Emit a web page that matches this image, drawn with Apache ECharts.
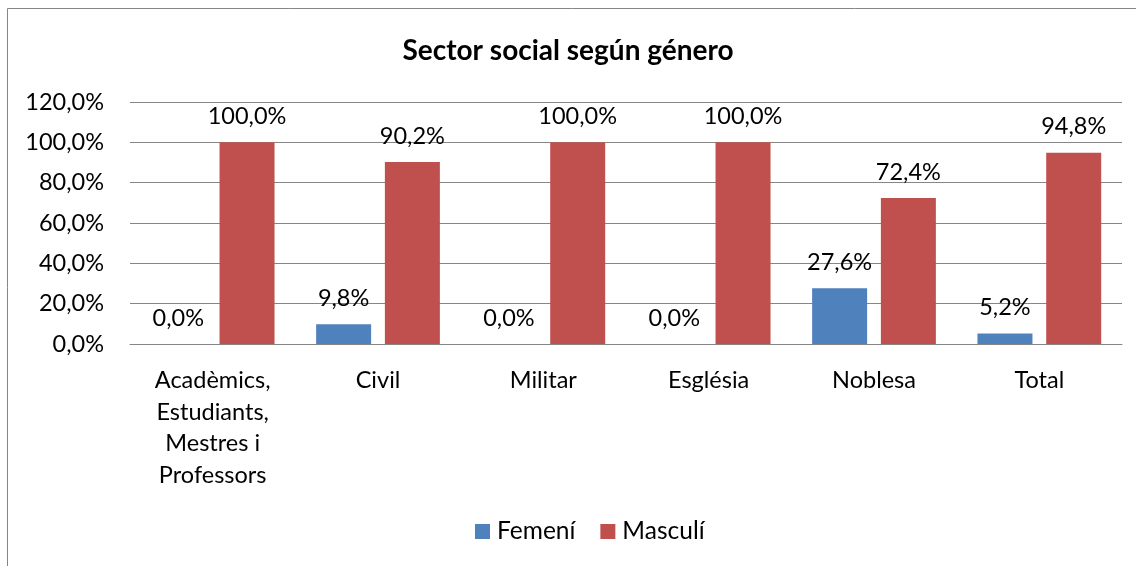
<!DOCTYPE html>
<html><head><meta charset="utf-8">
<script src="https://cdn.jsdelivr.net/npm/echarts@6/dist/echarts.min.js"></script>
<style>html,body{margin:0;padding:0;background:#fff}#c{width:1136px;height:566px}</style>
</head><body><div id="c"></div>
<script>
const categories = ['Acadèmics,\nEstudiants,\nMestres i\nProfessors', 'Civil', 'Militar', 'Església', 'Noblesa', 'Total'];
const femeni = [0.0, 9.8, 0.0, 0.0, 27.6, 5.2];
const masculi = [100.0, 90.2, 100.0, 100.0, 72.4, 94.8];
const seriesNames = ['Femení', 'Masculí'];
const titleText = 'Sector social según género';

const font = 'Lato, "Open Sans", sans-serif';
const fs = 23.5;
const fmt = v => v.toFixed(1).replace('.', ',') + '%';
const chart = echarts.init(document.getElementById('c'), null, {renderer: 'canvas'});
const lbl = {show: true, position: 'top', distance: 14, color: '#000', fontFamily: font, fontSize: fs,
  formatter: p => fmt(p.value)};
chart.setOption({
  animation: false,
  graphic: [{type: 'rect', shape: {x: 7.5, y: 8.5, width: 1140, height: 600}, style: {fill: 'none', stroke: '#868686', lineWidth: 1}}],
  title: {text: titleText, left: 'center', top: 32, textStyle: {fontFamily: font, fontSize: 28, fontWeight: 'bold', color: '#000'}},
  legend: {bottom: 17, left: 470, itemWidth: 15, itemHeight: 15, itemGap: 25, icon: 'rect',
    textStyle: {fontFamily: font, fontSize: 24.5, color: '#000', padding: [0, 0, 0, 2]}, data: seriesNames},
  grid: {left: 130, right: 14, top: 102, bottom: 222, containLabel: false},
  xAxis: {type: 'category', data: categories, axisTick: {show: false},
    axisLine: {lineStyle: {color: '#868686'}},
    axisLabel: {fontFamily: font, fontSize: fs, color: '#000', lineHeight: 31.5, margin: 21, interval: 0}},
  yAxis: {type: 'value', min: 0, max: 120, interval: 20,
    axisLabel: {fontFamily: font, fontSize: fs, color: '#000', margin: 26, formatter: v => fmt(v)},
    splitLine: {lineStyle: {color: '#868686', width: 1}}, axisLine: {show: false}},
  series: [
    {name: seriesNames[0], type: 'bar', data: femeni, barWidth: 55, barGap: '25%', itemStyle: {color: '#4F81BD'}, label: lbl},
    {name: seriesNames[1], type: 'bar', data: masculi, barWidth: 55, barGap: '25%', itemStyle: {color: '#C0504D'}, label: lbl}
  ]
});
</script></body></html>
